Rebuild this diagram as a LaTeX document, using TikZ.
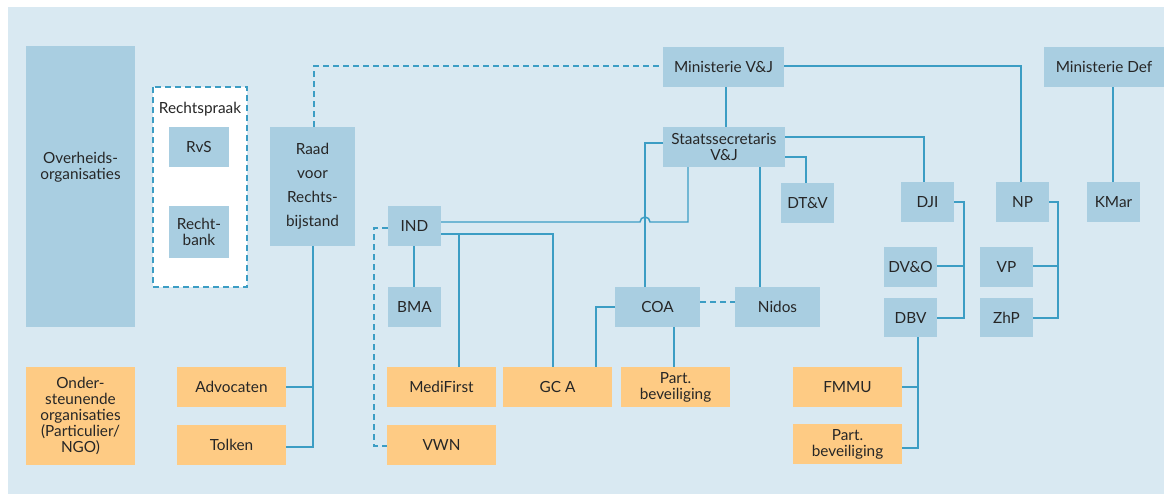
\documentclass[tikz,border=0pt]{standalone}
\usepackage{fontspec}
\setmainfont{Lato}
\definecolor{bgc}{HTML}{D9E9F2}
\definecolor{boxb}{HTML}{A9CEE1}
\definecolor{boxo}{HTML}{FECB84}
\definecolor{lnc}{HTML}{3C9DC4}
\definecolor{txc}{HTML}{262626}
\tikzset{
  bluebox/.style={fill=boxb, draw=none, inner sep=0pt, outer sep=0pt, align=center, text=txc},
  orangebox/.style={fill=boxo, draw=none, inner sep=0pt, outer sep=0pt, align=center, text=txc},
  widespaced/.style={font=\fontsize{11.5pt}{18pt}\selectfont},
  conn/.style={draw=lnc, line width=1.1pt},
  dconn/.style={draw=lnc, line width=1.1pt, dash pattern=on 4.5pt off 3pt},
}
\newcommand\bx[7]{\node[#6, minimum width={(#4-#2)*0.75pt}, minimum height={(#5-#3)*0.75pt}] (#1) at ({(#2+#4)/2},{(#3+#5)/2}) {#7};}
\begin{document}
\begin{tikzpicture}[x=0.75pt,y=-0.75pt,font=\fontsize{11.5pt}{12pt}\selectfont]
\useasboundingbox (0,0) rectangle (1164,494);
\fill[bgc] (8,7) rectangle (1164,494);
% left column
\bx{OV}{26}{46}{135}{327}{bluebox}{}
\node[text=txc, align=center] (OVt) at (80.5,167) {Overheids-\\organisaties};
\bx{ON}{26}{367}{135}{465}{orangebox}{Onder-\\steunende\\organisaties\\(Particulier/\\NGO)}
% Rechtspraak
\draw[fill=white, draw=lnc, line width=1.1pt, dash pattern=on 4.5pt off 3pt] (153,87) rectangle (247,287);
\node[text=txc] (RSt) at (200,109) {Rechtspraak};
\bx{RvS}{169}{127}{229}{167}{bluebox}{RvS}
\bx{RB}{169}{206}{229}{258}{bluebox}{Recht-\\bank}
\bx{RAAD}{270}{127}{355}{246}{bluebox,widespaced}{Raad\\voor\\Rechts-\\bijstand}
% ministries
\bx{MVJ}{663}{47}{784}{87}{bluebox}{Ministerie V\&J}
\bx{SVJ}{663}{127}{785}{167}{bluebox}{Staatssecretaris\\V\&J}
\bx{MDEF}{1044}{47}{1164}{87}{bluebox}{Ministerie Def}
\bx{IND}{388}{206}{441}{246}{bluebox}{IND}
\bx{BMA}{388}{287}{441}{327}{bluebox}{BMA}
\bx{COA}{615}{287}{700}{327}{bluebox}{COA}
\bx{NID}{735}{287}{820}{327}{bluebox}{Nidos}
\bx{DTV}{781}{183}{834}{223}{bluebox}{DT\&V}
\bx{DJI}{901}{182}{954}{222}{bluebox}{DJI}
\bx{NP}{996}{182}{1049}{222}{bluebox}{NP}
\bx{KM}{1087}{182}{1140}{222}{bluebox}{KMar}
\bx{DVO}{884}{247}{937}{287}{bluebox}{DV\&O}
\bx{DBV}{884}{298}{937}{337}{bluebox}{DBV}
\bx{VP}{980}{247}{1033}{287}{bluebox}{VP}
\bx{ZHP}{980}{298}{1033}{337}{bluebox}{ZhP}
% orange boxes
\bx{ADV}{177}{367}{286}{407}{orangebox}{Advocaten}
\bx{TOL}{177}{425}{286}{465}{orangebox}{Tolken}
\bx{MF}{387}{367}{496}{407}{orangebox}{MediFirst}
\bx{VWN}{387}{425}{496}{465}{orangebox}{VWN}
\bx{GCA}{503}{367}{612}{407}{orangebox}{GC A}
\bx{PB1}{621}{367}{730}{407}{orangebox}{Part.\\beveiliging}
\bx{FM}{793}{367}{902}{407}{orangebox}{FMMU}
\bx{PB2}{793}{424}{902}{464}{orangebox}{Part.\\beveiliging}
% connectors
\draw[dconn] (RAAD.north -| 314,0) |- (MVJ.west |- 0,66);
\draw[conn] (MVJ.south -| 726,0) -- (SVJ.north -| 726,0);
\draw[conn] (MVJ.east |- 0,66) -| (NP.north -| 1021,0);
\draw[conn] (MDEF.south -| 1113,0) -- (KM.north -| 1113,0);
\draw[conn] (SVJ.east |- 0,137) -| (DJI.north -| 924,0);
\draw[conn] (SVJ.east |- 0,157) -| (DTV.north -| 806,0);
\draw[conn] (SVJ.west |- 0,143) -| (COA.north -| 645,0);
\draw[conn] (IND.east |- 0,222) -- (640,222) arc[start angle=180, end angle=360, radius=5] -- (688,222) -- (SVJ.south -| 688,0);
\draw[conn] (SVJ.south -| 760,0) -- (NID.north -| 760,0);
\draw[dconn] (COA.east |- 0,302) -- (NID.west |- 0,302);
\draw[conn] (COA.west |- 0,307) -| (GCA.north -| 596,0);
\draw[conn] (COA.south -| 674,0) -- (PB1.north -| 674,0);
\draw[conn] (IND.south -| 414,0) -- (BMA.north -| 414,0);
\draw[conn] (IND.east |- 0,234) -| (GCA.north -| 553,0);
\draw[conn] (459,234) -- (MF.north -| 459,0);
\draw[dconn] (IND.west |- 0,228) -| (374,446) -- (VWN.west |- 0,446);
\draw[conn] (RAAD.south -| 313,0) |- (TOL.east |- 0,447);
\draw[conn] (313,387) -- (ADV.east |- 0,387);
\draw[conn] (DJI.east |- 0,202) -| (964,318) -- (DBV.east |- 0,318);
\draw[conn] (964,266) -- (DVO.east |- 0,266);
\draw[conn] (NP.east |- 0,202) -| (1058,318) -- (ZHP.east |- 0,318);
\draw[conn] (1058,266) -- (VP.east |- 0,266);
\draw[conn] (DBV.south -| 918,0) |- (PB2.east |- 0,448);
\draw[conn] (918,387) -- (FM.east |- 0,387);
\end{tikzpicture}
\end{document}
